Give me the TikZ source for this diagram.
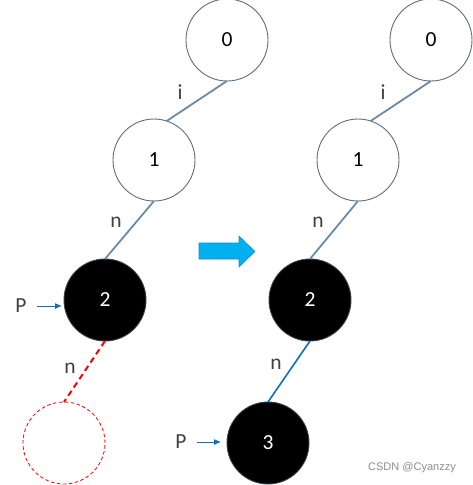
\documentclass[tikz,border=0pt]{standalone}
\usepackage{fontspec}
\setmainfont{Carlito}
\newfontfamily\wmfont{Liberation Sans}
\usetikzlibrary{arrows.meta}
\definecolor{ringc}{HTML}{5E6E7E}
\definecolor{edgec}{HTML}{6A8AA6}
\definecolor{labc}{HTML}{404040}
\definecolor{pblue}{HTML}{0A70BE}
\definecolor{bigarrow}{HTML}{00B0F0}
\definecolor{bigarrowline}{HTML}{1A8CC8}
\tikzset{
  x=1pt,y=-1pt,
  whitenode/.style={circle,draw=ringc,line width=0.9pt,fill=white,minimum size=82pt,inner sep=0pt,outer sep=0pt,font=\fontsize{21.5}{21.5}\selectfont},
  blacknode/.style={circle,draw=ringc!60!black,line width=0.9pt,fill=black,text=white,minimum size=82pt,inner sep=0pt,outer sep=0pt,font=\fontsize{21.5}{21.5}\selectfont},
  ghostnode/.style={circle,draw=red,dash pattern=on 3.5pt off 2.5pt,line width=0.8pt,minimum size=82pt,inner sep=0pt,outer sep=0pt},
  treeedge/.style={draw=edgec,line width=1.8pt},
  newedge/.style={draw=pblue,line width=1.6pt},
  redge/.style={draw=red,line width=2pt,dash pattern=on 6pt off 4pt},
  lab/.style={text=labc,font=\fontsize{21.5}{21.5}\selectfont,inner sep=0pt},
  parrow/.style={draw=pblue,line width=1pt,-{Latex[length=7pt,width=6pt]}},
}
\begin{document}
\begin{tikzpicture}
\useasboundingbox (0,0) rectangle (473,485);
% left tree
\node[whitenode] (a0) at (227,40) {0};
\node[whitenode] (a1) at (154,160) {1};
\node[blacknode] (a2) at (105,300) {2};
\node[ghostnode] (a3) at (64,443) {};
\draw[treeedge] (a0.south) -- (a1.72);
\draw[treeedge] (a1.south) -- (a2.north);
\draw[redge] (a2.south) -- (a3.north);
\node[lab] (li) at (180,92) {i};
\node[lab] (ln) at (116,222) {n};
\node[lab] (lnr) at (70,368) {n};
\node[lab] (pL) at (21,306) {P};
\draw[parrow] (37,306) coordinate (pLs) -- ([xshift=-2pt]a2.west |- pL);
% big arrow
\fill[bigarrow,draw=bigarrowline,line width=0.6pt] (199,243) -- (239,243) -- (239,236) -- (255,251.5) -- (239,267) -- (239,259) -- (199,259) -- cycle;
% right tree
\node[whitenode] (b0) at (431,40) {0};
\node[whitenode] (b1) at (358,160) {1};
\node[blacknode] (b2) at (310,300) {2};
\node[blacknode] (b3) at (268,443) {3};
\draw[treeedge] (b0.south) -- (b1.72);
\draw[treeedge] (b1.south) -- (b2.north);
\draw[newedge] (b2.south) -- (b3.north);
\node[lab] (ri) at (383,92) {i};
\node[lab] (rn) at (318,222) {n};
\node[lab] (rn2) at (276,364) {n};
\node[lab] (pR) at (181,442) {P};
\draw[parrow] (197,442) coordinate (pRs) -- ([xshift=-6pt]b3.west |- pR);
% watermark
\node[text=black!45,font=\wmfont\fontsize{11}{11}\selectfont,inner sep=0pt] (wm) at (412,468) {CSDN @Cyanzzy};
\end{tikzpicture}
\end{document}
